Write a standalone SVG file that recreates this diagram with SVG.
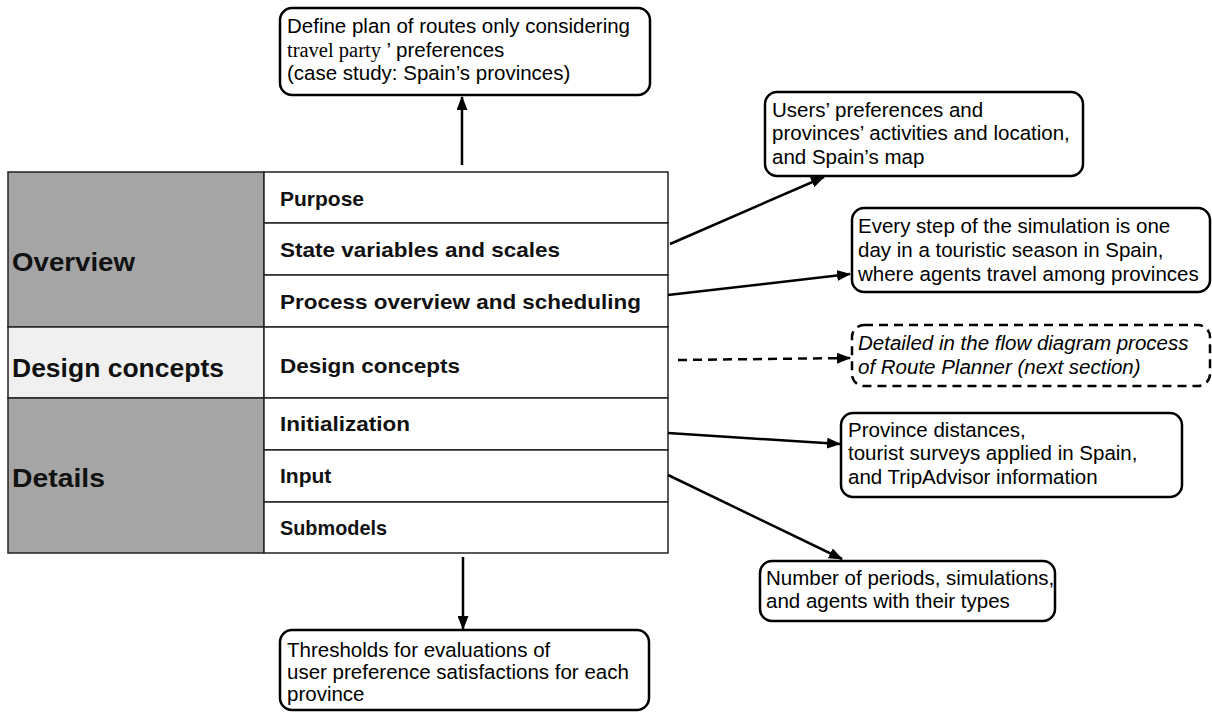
<svg xmlns="http://www.w3.org/2000/svg" width="1212" height="713" viewBox="0 0 1212 713">
<defs>
<marker id="ah" markerWidth="14" markerHeight="11" refX="13" refY="5.5" orient="auto" markerUnits="userSpaceOnUse">
<path d="M0,0 L14,5.5 L0,11 Z" fill="#000"/>
</marker>
<style>
.box{fill:#fff;stroke:#000;stroke-width:2.5}
.dbox{fill:#fff;stroke:#000;stroke-width:2.5;stroke-dasharray:9,6}
.t{font-family:"Liberation Sans",Arial,sans-serif;font-size:20.5px;fill:#000}
.ti{font-family:"Liberation Sans",Arial,sans-serif;font-size:20.5px;font-style:italic;fill:#000}
.ts{font-family:"Liberation Serif","Times New Roman",serif;font-size:20.5px;fill:#000}
.cell{fill:#fff;stroke:#222;stroke-width:1.5}
.gray{fill:#a5a5a5;stroke:#222;stroke-width:1.5}
.light{fill:#f0f0f0;stroke:#222;stroke-width:1.5}
.rt{font-family:"Liberation Sans",Arial,sans-serif;font-size:21px;font-weight:bold;fill:#111}
.lt{font-family:"Liberation Sans",Arial,sans-serif;font-size:25px;font-weight:bold;fill:#111}
.c{stroke:#000;stroke-width:2.5;fill:none}
</style>
</defs>

<g id="table">
<rect class="gray" x="8" y="172" width="256" height="155"/>
<rect class="light" x="8" y="327" width="256" height="71"/>
<rect class="gray" x="8" y="398" width="256" height="155"/>
<text class="lt" x="12" y="271" textLength="123" lengthAdjust="spacingAndGlyphs">Overview</text>
<text class="lt" x="12" y="377" textLength="212" lengthAdjust="spacingAndGlyphs">Design concepts</text>
<text class="lt" x="12" y="487" textLength="93" lengthAdjust="spacingAndGlyphs">Details</text>
<rect class="cell" x="264" y="172" width="404" height="51"/>
<rect class="cell" x="264" y="223" width="404" height="52"/>
<rect class="cell" x="264" y="275" width="404" height="52"/>
<rect class="cell" x="264" y="327" width="404" height="71"/>
<rect class="cell" x="264" y="398" width="404" height="52"/>
<rect class="cell" x="264" y="450" width="404" height="52"/>
<rect class="cell" x="264" y="502" width="404" height="51"/>
<text class="rt" x="280" y="206">Purpose</text>
<text class="rt" x="280" y="257" textLength="280" lengthAdjust="spacingAndGlyphs">State variables and scales</text>
<text class="rt" x="280" y="309" textLength="361" lengthAdjust="spacingAndGlyphs">Process overview and scheduling</text>
<text class="rt" x="280" y="373" textLength="180" lengthAdjust="spacingAndGlyphs">Design concepts</text>
<text class="rt" x="280" y="431" textLength="130" lengthAdjust="spacingAndGlyphs">Initialization</text>
<text class="rt" x="280" y="483">Input</text>
<text class="rt" x="280" y="535" textLength="107" lengthAdjust="spacingAndGlyphs">Submodels</text>
</g>

<g id="connectors">
<line class="c" x1="462" y1="165" x2="462" y2="97" marker-end="url(#ah)"/>
<line class="c" x1="670" y1="244" x2="824" y2="177" marker-end="url(#ah)"/>
<line class="c" x1="668" y1="295" x2="850" y2="274" marker-end="url(#ah)"/>
<line class="c" x1="678" y1="360" x2="850" y2="358" stroke-dasharray="9,6" marker-end="url(#ah)"/>
<line class="c" x1="668" y1="433" x2="840" y2="444" marker-end="url(#ah)"/>
<line class="c" x1="668" y1="475" x2="842" y2="559" marker-end="url(#ah)"/>
<line class="c" x1="463" y1="557" x2="463" y2="629" marker-end="url(#ah)"/>
</g>

<g id="purpose-box">
<rect class="box" x="280" y="8" width="370" height="87" rx="12"/>
<text class="t" x="287" y="33">Define plan of routes only considering</text>
<text x="287" y="57"><tspan class="ts"> travel party</tspan><tspan class="t"> ’ preferences</tspan></text>
<text class="t" x="287" y="80">(case study: Spain’s provinces)</text>
</g>

<g id="state-box">
<rect class="box" x="765" y="92" width="318" height="84" rx="12"/>
<text class="t" x="772" y="117">Users’ preferences and</text>
<text class="t" x="772" y="140">provinces’ activities and location,</text>
<text class="t" x="772" y="164">and Spain’s map</text>
</g>

<g id="process-box">
<rect class="box" x="852" y="208" width="358" height="84" rx="12"/>
<text class="t" x="858" y="233">Every step of the simulation is one</text>
<text class="t" x="858" y="257">day in a touristic season in Spain,</text>
<text class="t" x="858" y="281">where agents travel among provinces</text>
</g>

<g id="design-box">
<rect class="dbox" x="852" y="325" width="358" height="61" rx="12"/>
<text class="ti" x="858" y="350">Detailed in the flow diagram process</text>
<text class="ti" x="858" y="374">of Route Planner (next section)</text>
</g>

<g id="init-box">
<rect class="box" x="841" y="413" width="341" height="84" rx="12"/>
<text class="t" x="848" y="437">Province distances,</text>
<text class="t" x="848" y="460">tourist surveys applied in Spain,</text>
<text class="t" x="848" y="484">and TripAdvisor information</text>
</g>

<g id="input-box">
<rect class="box" x="760" y="561" width="295" height="60" rx="12"/>
<text class="t" x="766" y="585">Number of periods, simulations,</text>
<text class="t" x="766" y="608">and agents with their types</text>
</g>

<g id="submodels-box">
<rect class="box" x="280" y="630" width="369" height="80" rx="12"/>
<text class="t" x="287" y="657">Thresholds for evaluations of</text>
<text class="t" x="287" y="679">user preference satisfactions for each</text>
<text class="t" x="287" y="701">province</text>
</g>
</svg>
